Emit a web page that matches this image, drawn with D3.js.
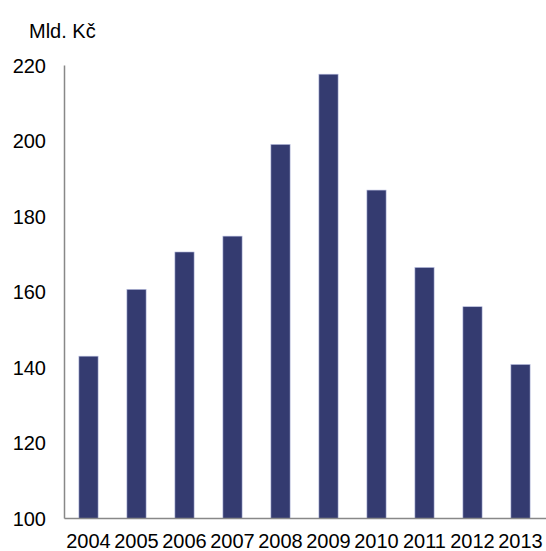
<!DOCTYPE html>
<html>
<head>
<meta charset="utf-8">
<script src="https://cdn.jsdelivr.net/npm/d3@7"></script>
<style>
  body { margin: 0; background: #fff; }
  text { font-family: "Liberation Sans", Arial, sans-serif; fill: #000; }
</style>
</head>
<body>
<div id="chart"></div>
<script>
// data
var years = ["2004","2005","2006","2007","2008","2009","2010","2011","2012","2013"];
var values = [143.0, 160.7, 170.6, 174.8, 199.1, 217.7, 187.0, 166.5, 156.1, 140.8];
var yTicks = [100, 120, 140, 160, 180, 200, 220];
var unit = "Mld. Kč";

var width = 546, height = 551;
var plotL = 64.5, plotR = 544.5, plotT = 65.5, plotB = 518.5;

var svg = d3.select("#chart").append("svg")
  .attr("width", width)
  .attr("height", height);

var x = d3.scaleBand().domain(years).range([plotL, plotR]).paddingInner(0.6).paddingOuter(0.3);
var y = d3.scaleLinear().domain([100, 220]).range([plotB, plotT]);

// bars
svg.selectAll("rect.bar")
  .data(values)
  .enter().append("rect")
  .attr("class", "bar")
  .attr("x", function(d, i){ return x(years[i]); })
  .attr("y", function(d){ return y(d); })
  .attr("width", x.bandwidth())
  .attr("height", function(d){ return y(100) - y(d); })
  .attr("fill", "#343b70")
  .attr("stroke", "#b8bde0")
  .attr("stroke-width", 0.6);

// axes lines
svg.append("line")
  .attr("x1", plotL).attr("x2", plotL)
  .attr("y1", y(220)).attr("y2", plotB)
  .attr("stroke", "#888").attr("stroke-width", 1.5);
svg.append("line")
  .attr("x1", plotL).attr("x2", width)
  .attr("y1", plotB).attr("y2", plotB)
  .attr("stroke", "#888").attr("stroke-width", 1.5);

// y tick labels
svg.selectAll("text.ytick")
  .data(yTicks)
  .enter().append("text")
  .attr("class", "ytick")
  .attr("x", 46)
  .attr("y", function(d){ return y(d); })
  .attr("dy", "0.35em")
  .attr("text-anchor", "end")
  .style("font-size", "20px")
  .text(function(d){ return d; });

// x labels
svg.selectAll("text.xtick")
  .data(years)
  .enter().append("text")
  .attr("class", "xtick")
  .attr("x", function(d){ return x(d) + x.bandwidth() / 2; })
  .attr("y", 548)
  .attr("text-anchor", "middle")
  .style("font-size", "20px")
  .text(function(d){ return d; });

// unit title
svg.append("text")
  .attr("x", 29)
  .attr("y", 38)
  .style("font-size", "20px")
  .text(unit);
</script>
</body>
</html>
